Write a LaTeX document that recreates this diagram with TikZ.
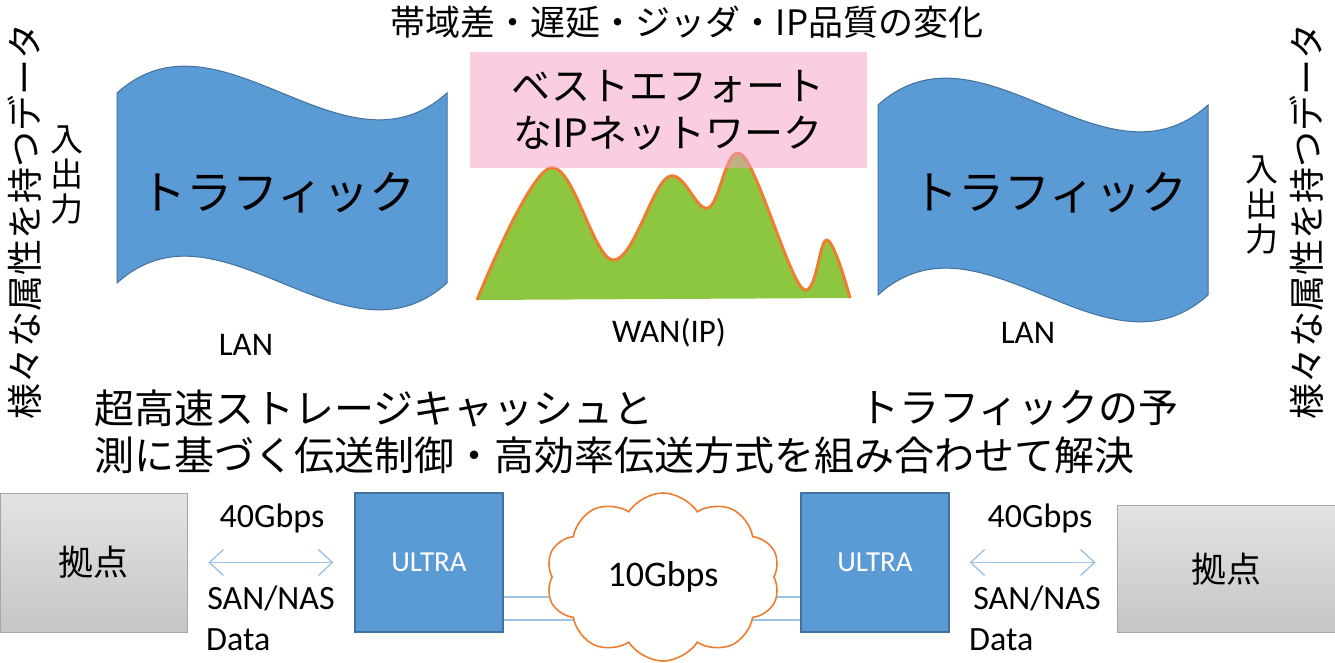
\documentclass[tikz,border=0pt]{standalone}
\usepackage{fontspec}
\newfontfamily\jp{Noto Sans CJK JP}
\newfontfamily\lat{Carlito}
\usetikzlibrary{shapes.symbols,arrows.meta}
\definecolor{wblue}{RGB}{91,155,213}
\definecolor{wborder}{RGB}{65,113,156}
\definecolor{mgreen}{RGB}{141,198,63}
\definecolor{morange}{RGB}{237,125,49}
\definecolor{mpink}{RGB}{245,155,195}
\definecolor{lblue}{RGB}{157,195,230}
\newcommand{\fs}[1]{\fontsize{#1}{#1}\selectfont}
\begin{document}
\begin{tikzpicture}[x=1pt,y=-1pt,
  wave/.style={fill=wblue,draw=wborder,line width=1},
  jptext/.style={font=\jp\fs{#1},inner sep=0},
  lattext/.style={font=\lat\fs{#1},inner sep=0},
  iotext/.style={font=\jp\fontsize{33}{35}\selectfont,align=center,inner sep=0},
  ubox/.style={draw=wborder,fill=wblue,line width=1.2,minimum width=148,minimum height=139,inner sep=0,text=white,font=\lat\fs{29}},
  gbox/.style={draw=gray!70,top color=gray!22,bottom color=gray!45,line width=0.8,inner sep=0,font=\jp\fs{35}},
  link/.style={draw=lblue,line width=1.4},
  dbl/.style={draw=lblue,line width=1.4,{Straight Barb[length=14,width=26]}-{Straight Barb[length=14,width=26]}},
  mline/.style={draw=morange,line width=3,line join=round}
]
\useasboundingbox (0,0) rectangle (1335,663);

% title
\node[jptext=35] (title) at (687,22) {帯域差・遅延・ジッダ・IP品質の変化};

% vertical side texts
\node[jptext=36,rotate=90] (vl) at (25,221) {様々な属性を持つデータ};
\node[iotext] (iol) at (67,175) {入\\出\\力};
\node[jptext=36,rotate=90] (vr) at (1307,221) {様々な属性を持つデータ};
\node[iotext] (ior) at (1262,205) {入\\出\\力};

% left wave
\path[wave] (117,93) .. controls (220,0) and (344,186) .. (447,93) -- (447,283)
  .. controls (344,376) and (220,190) .. (117,283) -- cycle;
\node[jptext=46] (tl) at (278,193) {トラフィック};
% right wave
\path[wave] (878,105) .. controls (981,12) and (1105,198) .. (1208,105) -- (1208,295)
  .. controls (1105,388) and (981,202) .. (878,295) -- cycle;
\node[jptext=46] (tr) at (1050,193) {トラフィック};

% mountain
\fill[mgreen] plot[smooth,tension=0.6] coordinates {(477,300) (550,168) (613,260) (668,177) (708,208) (742,155) (802,288) (827,240) (850,298)} -- cycle;
\draw[mline] plot[smooth,tension=0.6] coordinates {(477,300) (550,168) (613,260) (668,177) (708,208) (742,155) (802,288) (827,240) (850,298)};

% pink box
\node[fill=mpink,fill opacity=0.5,text opacity=1,minimum width=397,minimum height=116,inner sep=0,
  font=\jp\fontsize{39}{47}\selectfont,align=center] (best) at (668,110) {ベストエフォート\\なIPネットワーク};

% labels
\node[lattext=33] (lanl) at (246,345) {LAN};
\node[lattext=33] (wan) at (669,333) {WAN(IP)};
\node[lattext=33] (lanr) at (1028,333) {LAN};

% bottom text
\node[jptext=40,anchor=west] (b1) at (94,408) {超高速ストレージキャッシュと};
\node[jptext=40,anchor=west] (b1b) at (859,408) {トラフィックの予};
\node[jptext=40,anchor=west] (b2) at (94,455) {測に基づく伝送制御・高効率伝送方式を組み合わせて解決};

% bottom diagram
\node[gbox,minimum width=187,minimum height=139] (gl) at (93.5,562.5) {拠点};
\node[gbox,minimum width=218,minimum height=127] (gr) at (1226,569) {拠点};
\node[ubox] (ul) at (429,562.5) {ULTRA};
\node[ubox] (ur) at (875,562.5) {ULTRA};

\coordinate (y1) at (0,597);
\coordinate (y2) at (0,620);
\draw[link] (ul.east |- y1) -- (ur.west |- y1);
\draw[link] (ul.east |- y2) -- (ur.west |- y2);

\node[cloud,cloud puffs=10,cloud puff arc=115,aspect=1.4,draw=morange,fill=white,line width=1.6,
  minimum width=234,minimum height=168,inner sep=0,font=\lat\fs{36}] (cl) at (663,577) {10Gbps};

\draw[dbl,shorten <=21,shorten >=21] (gl.east) -- (ul.west);
\draw[dbl,shorten <=20,shorten >=21] (ur.east) -- (ur.east -| gr.west);

\node[lattext=34] (g40l) at (272,518) {40Gbps};
\node[lattext=34] (snl) at (271,598) {SAN/NAS};
\node[lattext=34,anchor=west] (dl) at (206,640) {Data};
\node[lattext=34] (g40r) at (1040,518) {40Gbps};
\node[lattext=34] (snr) at (1037,598) {SAN/NAS};
\node[lattext=34,anchor=west] (dr) at (969,640) {Data};
\end{tikzpicture}
\end{document}
